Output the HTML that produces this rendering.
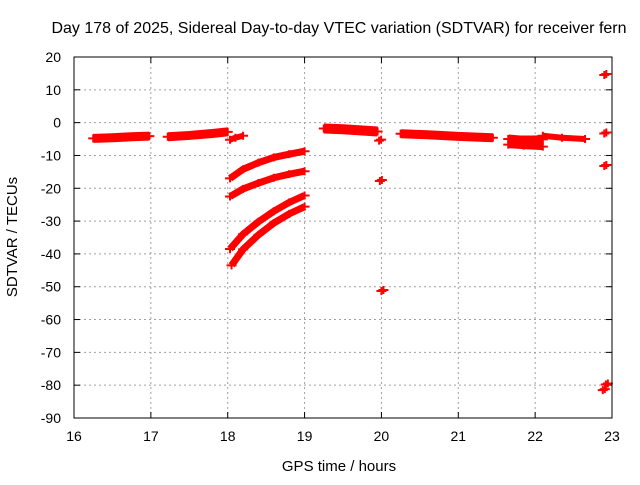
<!DOCTYPE html>
<html><head><meta charset="utf-8"><style>
body{margin:0;background:#fff;}
text{font-family:"Liberation Sans",sans-serif;}
</style></head><body>
<svg id="chart" width="640" height="480" viewBox="0 0 640 480" xmlns="http://www.w3.org/2000/svg">
<rect width="640" height="480" fill="#fff"/>
<text x="339" y="33" font-size="16" text-anchor="middle" fill="#000">Day 178 of 2025, Sidereal Day-to-day VTEC variation (SDTVAR) for receiver fern</text>
<text x="339" y="471" font-size="15" text-anchor="middle">GPS time / hours</text>
<text transform="translate(17,237) rotate(-90)" font-size="15" text-anchor="middle">SDTVAR / TECUs</text>
<g id="grid"></g><g id="ticks"></g><g id="marks"></g>
<rect x="74" y="57" width="538" height="361" fill="none" stroke="#000" stroke-width="1"/>
</svg>
<script>
const xTicks=[16,17,18,19,20,21,22,23];
const yTicks=[20,10,0,-10,-20,-30,-40,-50,-60,-70,-80,-90];
const segA_h=[16.25,16.5,16.75,16.98], segA_v=[-4.8,-4.6,-4.3,-4.1];
const segB_h=[17.22,17.5,17.8,18.0], segB_v=[-4.3,-3.9,-3.3,-2.8];
const segC_h=[18.03,18.1,18.2], segC_v=[-5.2,-4.6,-4.0];
const c1_h=[18.03,18.2,18.4,18.6,18.8,19.0], c1_v=[-17,-14.2,-12.2,-10.6,-9.6,-8.7];
const c2_h=[18.03,18.2,18.4,18.6,18.8,19.0], c2_v=[-22.5,-20.2,-18.4,-16.8,-15.7,-14.8];
const c3_h=[18.03,18.2,18.4,18.6,18.8,19.0], c3_v=[-38.5,-34,-30.2,-27,-24.3,-22.2];
const c4_h=[18.05,18.2,18.4,18.6,18.8,19.0], c4_v=[-43.5,-38.6,-34.2,-30.6,-27.8,-25.6];
const segD_h=[19.25,19.5,19.75,19.95], segD_v=[-1.8,-2.0,-2.4,-2.7];
const segF_h=[20.25,20.6,21.0,21.45], segF_v=[-3.4,-3.7,-4.2,-4.6];
const segG_h=[21.65,21.8,22.0,22.1], segG_v=[-5.0,-5.3,-5.3,-5.1];
const segG2_h=[21.65,21.85,22.1], segG2_v=[-6.7,-7.0,-7.3];
const segH_h=[22.1,22.35,22.65], segH_v=[-4.0,-4.6,-5.0];
const iso_h=[19.97,19.98,20.0,22.9,22.9,22.9,22.88,22.92], iso_v=[-5.5,-17.8,-51.3,14.5,-3.3,-13.2,-81.5,-79.8];
const series=[[segA_h,segA_v,9],[segB_h,segB_v,9],[segC_h,segC_v,6],[c1_h,c1_v,7],[c2_h,c2_v,7],[c3_h,c3_v,7],[c4_h,c4_v,7],[segD_h,segD_v,10],[segF_h,segF_v,9],[segG_h,segG_v,9],[segG2_h,segG2_v,7],[segH_h,segH_v,6]];
const X=h=>74+(h-16)*538/7, Y=v=>57+(20-v)*361/110;
const NS="http://www.w3.org/2000/svg";
function mk(t,a,p){const e=document.createElementNS(NS,t);for(const k in a)e.setAttribute(k,a[k]);p.appendChild(e);return e;}
const grid=document.getElementById('grid'),ticks=document.getElementById('ticks'),marks=document.getElementById('marks');
xTicks.forEach(t=>{const x=X(t);
 if(t>16&&t<23){const g=mk('line',{x1:x,x2:x,y1:57,y2:418,stroke:'#a0a0a0','stroke-dasharray':'2,3'},grid);
 
 }
 mk('line',{x1:x,x2:x,y1:418,y2:412,stroke:'#000'},ticks);mk('line',{x1:x,x2:x,y1:57,y2:63,stroke:'#000'},ticks);
 const tx=mk('text',{x:x,y:441,'font-size':14,'text-anchor':'middle'},ticks);tx.textContent=t;
 
 });
yTicks.forEach(t=>{const y=Y(t);
 if(t<20&&t>-90){const g=mk('line',{x1:74,x2:612,y1:y,y2:y,stroke:'#a0a0a0','stroke-dasharray':'2,3'},grid);
 
 }
 mk('line',{x1:74,x2:80,y1:y,y2:y,stroke:'#000'},ticks);mk('line',{x1:612,x2:606,y1:y,y2:y,stroke:'#000'},ticks);
 const tx=mk('text',{x:61,y:y+5,'font-size':14,'text-anchor':'end'},ticks);tx.textContent=t;
 
 });
function plus(x,y){const p=mk('path',{d:`M${x-5},${y}h10M${x},${y-4}v8`,stroke:'#f00','stroke-width':2},marks);
 
 }
series.forEach(([hs,vs,w])=>{
 const pts=hs.map((h,i)=>X(h)+','+Y(vs[i])).join(' ');
 const pl=mk('polyline',{points:pts,fill:'none',stroke:'#f00','stroke-width':w,'stroke-linecap':'butt','stroke-linejoin':'round'},marks);
 
 
 hs.forEach((h,i)=>plus(X(h),Y(vs[i])));});
iso_h.forEach((h,i)=>{plus(X(h),Y(iso_v[i]));plus(X(h)+2,Y(iso_v[i])-1);});
</script>
</body></html>
